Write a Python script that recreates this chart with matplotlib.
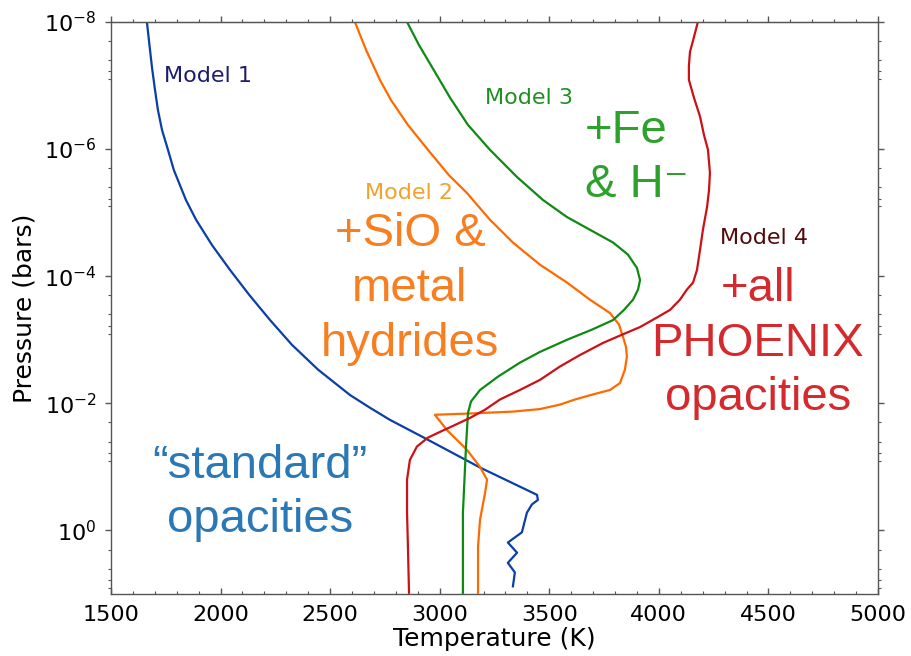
import numpy as np
import matplotlib.pyplot as plt
from matplotlib.ticker import FixedLocator, MultipleLocator, LogFormatterMathtext, NullFormatter

# temperature (K) against log10 pressure (bar) for each model atmosphere
m1_T = [1664, 1673, 1687, 1701, 1714, 1733, 1760, 1787, 1842, 1888, 1961, 2043,
        2130, 2226, 2326, 2445, 2591, 2682, 2773, 2928, 3184, 3444,
        3448, 3421, 3398, 3375, 3311, 3353, 3311, 3343, 3334]
m1_logP = [-8.00, -7.72, -7.29, -6.93, -6.62, -6.30, -5.99, -5.67, -5.20, -4.89, -4.49, -4.10,
           -3.71, -3.31, -2.92, -2.53, -2.13, -1.93, -1.74, -1.46, -0.99, -0.56,
           -0.48, -0.41, -0.28, 0.03, 0.19, 0.35, 0.51, 0.66, 0.88]

m2_T = [2613, 2664, 2727, 2778, 2855, 2946, 3042, 3124, 3229, 3334, 3458, 3581,
        3686, 3777, 3818, 3836, 3850, 3854, 3845, 3823, 3777, 3699, 3617, 3549,
        3458, 3334, 3138, 2978, 3033, 3124, 3184, 3216, 3207, 3184, 3175, 3175]
m2_logP = [-8.00, -7.56, -7.09, -6.77, -6.38, -5.99, -5.59, -5.31, -4.89, -4.53, -4.18, -3.90,
           -3.63, -3.42, -3.24, -3.05, -2.89, -2.73, -2.53, -2.32, -2.21, -2.14, -2.06, -1.98,
           -1.91, -1.87, -1.84, -1.82, -1.58, -1.27, -1.00, -0.80, -0.59, -0.17, 0.25, 0.98]

m3_T = [2851, 2905, 2965, 3047, 3129, 3229, 3353, 3471, 3581, 3686, 3791, 3859,
        3900, 3914, 3905, 3882, 3841, 3791, 3695, 3581, 3458, 3366, 3266, 3184,
        3143, 3129, 3120, 3106, 3106]
m3_logP = [-8.00, -7.64, -7.29, -6.81, -6.38, -5.99, -5.56, -5.20, -4.93, -4.73, -4.53, -4.34,
           -4.13, -3.94, -3.79, -3.63, -3.47, -3.31, -3.16, -3.00, -2.81, -2.64, -2.42, -2.21,
           -2.03, -1.85, -1.32, -0.28, 0.98]

m4_T = [4178, 4160, 4142, 4137, 4137, 4160, 4188, 4206, 4224, 4233, 4229, 4220,
        4201, 4188, 4174, 4156, 4128, 4096, 4051, 3991, 3914, 3832, 3745, 3640,
        3549, 3458, 3366, 3275, 3207, 3138, 3070, 3001, 2946, 2896, 2864, 2851,
        2851, 2855, 2860]
m4_logP = [-8.00, -7.76, -7.53, -7.31, -7.09, -6.81, -6.51, -6.22, -5.99, -5.63, -5.36, -5.09,
           -4.73, -4.42, -4.10, -3.90, -3.79, -3.63, -3.47, -3.35, -3.20, -3.08, -2.95, -2.76,
           -2.58, -2.37, -2.21, -2.06, -1.90, -1.77, -1.66, -1.55, -1.46, -1.32, -1.11, -0.80,
           -0.28, 0.25, 0.98]

models = ["Model 1", "Model 2", "Model 3", "Model 4"]
opacity_notes = ["\u201cstandard\u201d\nopacities", "+SiO &\nmetal\nhydrides",
                 "+Fe\n& H\u207b", "+all\nPHOENIX\nopacities"]


def Main():
    fig = plt.figure(figsize=(9.11, 6.56), dpi=100)
    ax = fig.add_axes([0.1218, 0.0945, 0.842, 0.872])

    line_cols = ['#0a3fa8', '#ff6a00', '#0e8a12', '#cc1016']
    profiles = [(m1_T, m1_logP), (m2_T, m2_logP), (m3_T, m3_logP), (m4_T, m4_logP)]
    for (T, lp), c in zip(profiles, line_cols):
        ax.plot(T, 10.0 ** np.array(lp), color=c, lw=1.6, solid_joinstyle='round')

    ax.set_yscale('log')
    ax.set_xlim(1500, 5000)
    ax.set_ylim(10, 1e-8)

    ax.xaxis.set_major_locator(MultipleLocator(500))
    ax.xaxis.set_minor_locator(MultipleLocator(100))
    majors = [1e-8, 1e-6, 1e-4, 1e-2, 1e0]
    ax.yaxis.set_major_locator(FixedLocator(majors))
    ax.yaxis.set_major_formatter(LogFormatterMathtext())
    ax.yaxis.set_minor_locator(FixedLocator([s * m for m in majors for s in (2, 4, 6, 8)]))
    ax.yaxis.set_minor_formatter(NullFormatter())

    for sp in ax.spines.values():
        sp.set_color('#555555')
        sp.set_linewidth(1.0)
    ax.tick_params(which='both', color='#555555', labelsize=16, right=True, top=False)
    ax.tick_params(axis='x', which='both', direction='in', pad=8)
    ax.tick_params(axis='y', which='both', direction='out', pad=6)
    ax.tick_params(which='major', length=4.5, width=1.0)
    ax.tick_params(which='minor', length=2.0, width=0.8)

    # top edge carries outward ticks without labels
    top = ax.secondary_xaxis('top')
    top.xaxis.set_major_locator(MultipleLocator(500))
    top.xaxis.set_minor_locator(MultipleLocator(100))
    top.spines['top'].set_color('#555555')
    top.tick_params(which='both', direction='out', color='#555555', labeltop=False)
    top.tick_params(which='major', length=4.5, width=1.0)
    top.tick_params(which='minor', length=2.0, width=0.8)

    ax.set_xlabel('Temperature (K)', fontsize=18, labelpad=1)
    ax.set_ylabel('Pressure (bars)', fontsize=18, labelpad=5)

    # model names
    name_pos = [(1943, 10 ** -7.15), (2860, 10 ** -5.31), (3407, 10 ** -6.80), (4480, 10 ** -4.60)]
    name_cols = ['#1c1c70', '#f2a22a', '#1f8f24', '#520a0c']
    for name, (x, y), c in zip(models, name_pos, name_cols):
        ax.text(x, y, name, color=c, fontsize=16, ha='center', va='center')

    # which opacities each model adds
    note_pos = [(2180, 10 ** -0.59), (2864, 10 ** -3.80), (3663, 10 ** -5.86), (4452, 10 ** -2.94)]
    note_ha = ['center', 'center', 'left', 'center']
    note_cols = ['#2b78b6', '#f77f22', '#2ea02c', '#d42a2e']
    for note, (x, y), ha, c in zip(opacity_notes, note_pos, note_ha, note_cols):
        ax.text(x, y, note, color=c, fontsize=34, ha=ha, va='center', multialignment=ha,
                family=['Liberation Sans', 'DejaVu Sans'], linespacing=1.32)

    fig.savefig('out.png', dpi=100)


if __name__ == "__main__":
    Main()
